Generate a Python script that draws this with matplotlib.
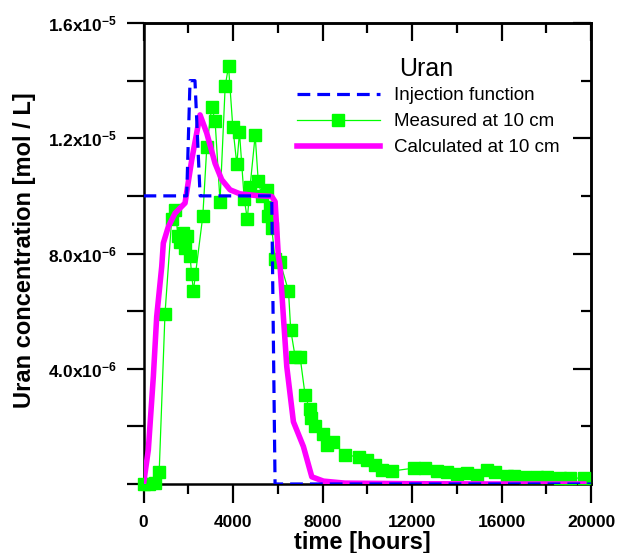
import matplotlib
matplotlib.use("Agg")
import matplotlib.pyplot as plt
from matplotlib.ticker import MultipleLocator, FixedLocator, FuncFormatter
from matplotlib.lines import Line2D

plt.rcParams['font.family'] = ['Liberation Sans', 'DejaVu Sans']
plt.rcParams['mathtext.fontset'] = 'custom'
plt.rcParams['mathtext.rm'] = 'Liberation Sans:bold'
plt.rcParams['mathtext.bf'] = 'Liberation Sans:bold'
plt.rcParams['mathtext.it'] = 'Liberation Sans:bold'

# ---- data ----
inj_t = [0, 1930, 2080, 2300, 2530, 5730, 5880, 20000]
inj_c = [10.0e-6, 10.0e-6, 14.0e-6, 14.0e-6, 10.0e-6, 10.0e-6, 0.0, 0.0]

meas_t = [0, 250, 500, 700, 960, 1260, 1410, 1550, 1650, 1750, 1850, 1950,
          2080, 2150, 2230, 2650, 2830, 3050, 3200, 3420, 3650, 3800, 3990,
          4170, 4290, 4500, 4640, 4760, 4990, 5130, 5290, 5510, 5580, 5660,
          5730, 5880, 6105, 6480, 6580, 6780, 7000, 7220, 7420, 7480, 7670,
          8040, 8190, 8490, 9010, 9610, 9980, 10350, 10650, 11100, 12070,
          12590, 13110, 13560, 14000, 14450, 14900, 15350, 15720, 16240,
          16540, 17060, 17580, 18030, 18630, 19070, 19670]
meas_c = [0.0, 0.0, 0.05, 0.4, 5.9, 9.2, 9.5, 8.6, 8.4, 8.7, 8.2, 8.6,
          7.9, 7.3, 6.7, 9.3, 11.7, 13.1, 12.6, 9.8, 13.8, 14.5, 12.4,
          11.1, 12.2, 9.9, 9.2, 10.3, 12.1, 10.5, 10.0, 10.2, 9.3, 9.6,
          8.9, 7.8, 7.7, 6.7, 5.35, 4.4, 4.4, 3.1, 2.6, 2.3, 2.0,
          1.75, 1.35, 1.45, 1.0, 0.95, 0.83, 0.66, 0.5, 0.45, 0.55,
          0.55, 0.45, 0.42, 0.35, 0.38, 0.31, 0.49, 0.42, 0.29,
          0.29, 0.25, 0.23, 0.23, 0.21, 0.21, 0.2]
meas_c = [v * 1e-6 for v in meas_c]

calc_t = [0, 215, 440, 590, 815, 886, 1110, 1410, 1856, 2155, 2527, 2826,
          3198, 3497, 3869, 4316, 5063, 5733, 5881, 6029, 6105, 6252, 6404,
          6700, 7147, 7522, 8041, 9000, 12000, 16000, 19800]
calc_c = [0.0, 1.18, 3.73, 5.81, 7.55, 8.36, 8.93, 9.40, 9.75, 11.25, 12.81,
          12.18, 11.13, 10.56, 10.21, 10.07, 10.01, 9.98, 9.80, 7.89, 7.55,
          5.81, 4.07, 2.16, 1.30, 0.25, 0.10, 0.03, 0.01, 0.0, 0.0]
calc_c = [v * 1e-6 for v in calc_c]

x_ticks = [0, 4000, 8000, 12000, 16000, 20000]
y_ticks = [0, 4.0e-6, 8.0e-6, 1.2e-5, 1.6e-5]
y_labels = ['', '4.0x10$^{-6}$', '8.0x10$^{-6}$', '1.2x10$^{-5}$', '1.6x10$^{-5}$']

BLUE = '#0000FF'
GREEN = '#00FF00'
MAGENTA = '#FF00FF'

W, H = 620, 553
fig = plt.figure(figsize=(W / 100, H / 100), dpi=100)
ax = fig.add_axes([143.5 / W, 69 / H, 447.5 / W, 461 / H])

ax.plot(meas_t, meas_c, color=GREEN, lw=0.9, marker='s', ms=9,
        mec=GREEN, mfc=GREEN, clip_on=False, zorder=3)
ax.plot(calc_t, calc_c, color=MAGENTA, lw=4, zorder=4, solid_capstyle='butt')
ax.plot(inj_t, inj_c, color=BLUE, lw=2.3, dashes=(4, 2.2), zorder=5)

ax.set_xlim(0, 20000)
ax.set_ylim(0, 1.6e-5)

for s in ax.spines.values():
    s.set_linewidth(1.8)

ax.xaxis.set_major_locator(FixedLocator(x_ticks))
ax.xaxis.set_minor_locator(MultipleLocator(2000))
ax.set_xticklabels([str(v) for v in x_ticks])
ax.tick_params(axis='x', which='major', direction='out', length=14, width=1.6,
               labelsize=12.5, pad=8, top=False)
ax.tick_params(axis='x', which='minor', direction='out', length=7, width=1.6, top=False)

ax.yaxis.set_major_locator(MultipleLocator(2e-6))
ax.yaxis.set_minor_locator(MultipleLocator(2e-6))
ax.yaxis.set_major_formatter(FuncFormatter(
    lambda v, p: dict(zip([round(t * 1e7) for t in y_ticks], y_labels)).get(round(v * 1e7), '')))
ax.tick_params(axis='y', which='major', direction='out', length=12, width=1.6,
               labelsize=12.5, pad=7, right=False)
ax.tick_params(axis='y', which='minor', length=0, right=False)
for lab in ax.get_xticklabels() + ax.get_yticklabels():
    lab.set_fontweight('bold')

# top and right inward ticks
secx = ax.secondary_xaxis('top')
secx.xaxis.set_major_locator(FixedLocator(x_ticks))
secx.xaxis.set_minor_locator(MultipleLocator(2000))
secx.tick_params(which='major', direction='in', length=13, width=1.6, labeltop=False)
secx.tick_params(which='minor', direction='in', length=7, width=1.6)
secx.spines['top'].set_linewidth(1.8)

secy = ax.secondary_yaxis('right')
secy.yaxis.set_major_locator(FixedLocator(y_ticks))
secy.yaxis.set_minor_locator(MultipleLocator(2e-6))
secy.tick_params(which='major', direction='in', length=13, width=1.6, labelright=False)
secy.tick_params(which='minor', direction='in', length=7, width=1.6)
secy.spines['right'].set_linewidth(1.8)

fig.text(25 / W, 1 - 250 / H, 'Uran concentration [mol / L]', rotation=90,
         ha='center', va='center', fontsize=17, fontweight='bold')
fig.text(362 / W, 1 - 542 / H, 'time [hours]', ha='center', va='center',
         fontsize=17, fontweight='bold')

handles = [
    Line2D([], [], color=BLUE, lw=2.3, dashes=(4, 2.2)),
    Line2D([], [], color=GREEN, lw=0.9, marker='s', ms=9),
    Line2D([], [], color=MAGENTA, lw=4),
]
leg = ax.legend(handles, ['Injection function', 'Measured at 10 cm', 'Calculated at 10 cm'],
                frameon=False, fontsize=13.5,
                loc='upper left', bbox_to_anchor=(297 / W, 1 - 87 / H),
                bbox_transform=fig.transFigure, handlelength=4.4,
                handletextpad=0.8, labelspacing=0.48, borderpad=0, borderaxespad=0)
fig.text(426 / W, 1 - 69 / H, 'Uran', ha='center', va='center', fontsize=18)

fig.savefig('out.png', dpi=100)
